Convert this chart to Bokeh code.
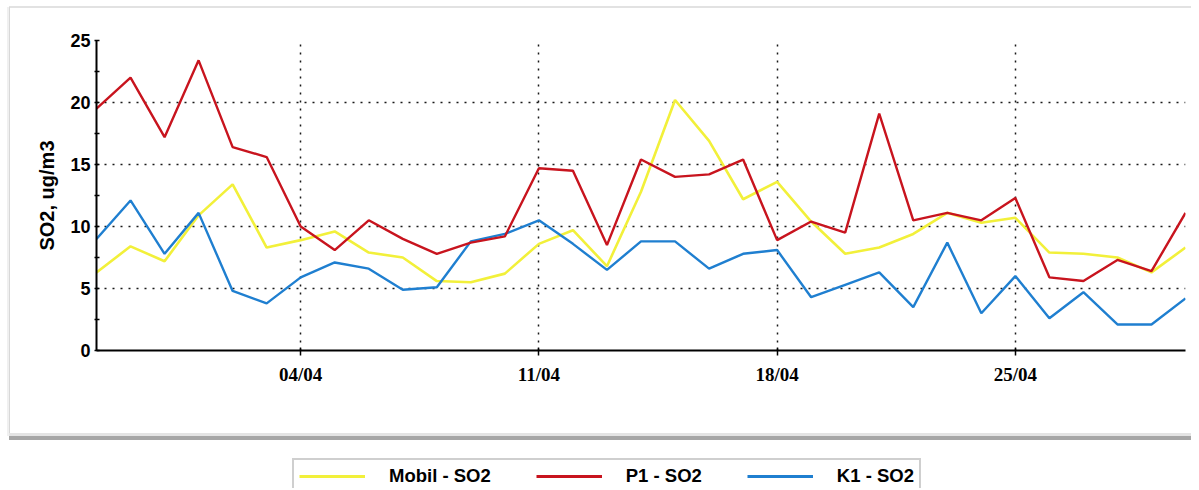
from bokeh.plotting import figure
from bokeh.layouts import column
from bokeh.models import (ColumnDataSource, FixedTicker, Legend, LegendItem,
                          Range1d, InlineStyleSheet)
from bokeh.embed import file_html
from bokeh.resources import INLINE

# ---- data ----
dates = ["29/03", "30/03", "31/03", "01/04", "02/04", "03/04", "04/04", "05/04",
         "06/04", "07/04", "08/04", "09/04", "10/04", "11/04", "12/04", "13/04",
         "14/04", "15/04", "16/04", "17/04", "18/04", "19/04", "20/04", "21/04",
         "22/04", "23/04", "24/04", "25/04", "26/04", "27/04", "28/04", "29/04",
         "30/04"]
mobil = [6.3, 8.4, 7.2, 10.9, 13.4, 8.3, 8.9, 9.6, 7.9, 7.5, 5.6, 5.5, 6.2, 8.6,
         9.7, 6.8, 12.8, 20.2, 16.9, 12.2, 13.6, 10.4, 7.8, 8.3, 9.4, 11.1, 10.3,
         10.7, 7.9, 7.8, 7.5, 6.3, 8.3]
p1 = [19.5, 22.0, 17.2, 23.4, 16.4, 15.6, 10.0, 8.1, 10.5, 9.0, 7.8, 8.7, 9.2,
      14.7, 14.5, 8.5, 15.4, 14.0, 14.2, 15.4, 8.9, 10.4, 9.5, 19.1, 10.5, 11.1,
      10.5, 12.3, 5.9, 5.6, 7.3, 6.4, 11.1]
k1 = [9.0, 12.1, 7.8, 11.1, 4.8, 3.8, 5.9, 7.1, 6.6, 4.9, 5.1, 8.8, 9.4, 10.5,
      8.6, 6.5, 8.8, 8.8, 6.6, 7.8, 8.1, 4.3, 5.3, 6.3, 3.5, 8.7, 3.0, 6.0, 2.6,
      4.7, 2.1, 2.1, 4.2]
x_tick_labels = ["04/04", "11/04", "18/04", "25/04"]
y_ticks = [0, 5, 10, 15, 20, 25]
y_minor = [2.5, 7.5, 12.5, 17.5, 22.5]
series_names = ["Mobil - SO2", "P1 - SO2", "K1 - SO2"]
series_cols = ["mobil", "p1", "k1"]
colors = ["#f2f03a", "#c8141e", "#1f7fd0"]
widths = [2.6, 2.4, 2.4]

idx = list(range(len(dates)))
src = ColumnDataSource(data=dict(x=idx, date=dates, mobil=mobil, p1=p1, k1=k1))

p = figure(width=1191, height=452, output_backend="svg", toolbar_location=None,
           x_range=Range1d(0, len(dates) - 1), y_range=Range1d(0, 25),
           min_border_left=96, min_border_top=40, min_border_right=6,
           min_border_bottom=102)
p.outline_line_color = None
p.background_fill_color = None
p.border_fill_color = None

# outer panel frame (CSS decoration behind the transparent canvas)
css = """
:host {
  background:
    linear-gradient(#a6a6a6, #a6a6a6) 9px 436px / 1200px 4px no-repeat,
    linear-gradient(#e4e4e4, #e4e4e4) 9px 433px / 1200px 3px no-repeat,
    linear-gradient(#d8d8d8, #d8d8d8) 9px 7px / 1px 429px no-repeat,
    linear-gradient(#f0f0f0, #f0f0f0) 7px 7px / 2px 429px no-repeat,
    linear-gradient(#e2e2e2, #e2e2e2) 9px 6px / 1200px 2px no-repeat,
    #ffffff;
}
"""
p.stylesheets = [InlineStyleSheet(css=css)]

# axes
x_ticks = [dates.index(t) for t in x_tick_labels]
p.xaxis.ticker = FixedTicker(ticks=x_ticks)
p.xaxis.major_label_overrides = {dates.index(t): t for t in x_tick_labels}
p.yaxis.ticker = FixedTicker(ticks=y_ticks, minor_ticks=y_minor)

for ax in (p.xaxis[0], p.yaxis[0]):
    ax.axis_line_color = "black"
    ax.axis_line_width = 2
    ax.major_tick_line_color = "black"
    ax.major_tick_line_width = 1.5
    ax.minor_tick_line_color = "black"
    ax.minor_tick_line_width = 1.5
    ax.major_label_text_color = "black"
    ax.major_label_text_font_style = "bold"

p.xaxis.major_tick_in = 3
p.xaxis.major_tick_out = 5
p.xaxis.minor_tick_line_color = None
p.xaxis.major_label_text_font = "Liberation Serif"
p.xaxis.major_label_text_font_size = "19px"
p.xaxis.major_label_standoff = 8

p.yaxis.major_tick_in = 3
p.yaxis.major_tick_out = 2
p.yaxis.minor_tick_in = 3
p.yaxis.minor_tick_out = 2
p.yaxis.major_label_text_font = "Liberation Sans"
p.yaxis.major_label_text_font_size = "18px"
p.yaxis.major_label_standoff = 4
p.yaxis.axis_label = "SO2, ug/m3"
p.yaxis.axis_label_text_font = "Liberation Sans"
p.yaxis.axis_label_text_font_style = "bold"
p.yaxis.axis_label_text_font_size = "20px"
p.yaxis.axis_label_text_color = "black"
p.yaxis.axis_label_standoff = 9

# grids
for g in (p.xgrid[0], p.ygrid[0]):
    g.grid_line_color = "black"
    g.grid_line_dash = "2 6"
    g.grid_line_width = 1.5
    g.grid_line_alpha = 0.9
p.ygrid.ticker = FixedTicker(ticks=[t for t in y_ticks if t > 0])

# lines (red drawn on top)
p.line("x", "mobil", source=src, line_color=colors[0], line_width=widths[0])
p.line("x", "k1", source=src, line_color=colors[2], line_width=widths[2])
p.line("x", "p1", source=src, line_color=colors[1], line_width=widths[1])

# ---- legend strip below the chart panel ----
# same series drawn again but outside this strip's y-range, so only the
# legend swatches are seen
q = figure(width=1191, height=36, output_backend="svg", toolbar_location=None,
           x_axis_type=None, y_axis_type=None,
           x_range=Range1d(0, len(dates) - 1), y_range=Range1d(100, 101),
           min_border_left=0, min_border_right=0, min_border_top=0,
           min_border_bottom=0)
q.outline_line_color = None
q.background_fill_color = "white"
q.border_fill_color = "white"
q.xgrid.visible = False
q.ygrid.visible = False

leg_renderers = [q.line("x", c, source=src, line_color=col, line_width=3)
                 for c, col in zip(series_cols, colors)]
legend = Legend(items=[LegendItem(label=n, renderers=[r], index=0)
                       for n, r in zip(series_names, leg_renderers)],
                orientation="horizontal", location=(196, -6))
legend.margin = 0
legend.padding = 5
legend.spacing = 45
legend.glyph_width = 66
legend.glyph_height = 22
legend.label_height = 22
legend.label_standoff = 24
legend.label_text_font = "Liberation Sans"
legend.label_text_font_style = "bold"
legend.label_text_font_size = "18.5px"
legend.label_text_color = "black"
legend.border_line_color = "#a0a0a0"
legend.border_line_width = 2
legend.background_fill_color = "white"
legend.background_fill_alpha = 1
q.add_layout(legend, "center")

layout = column(p, q, spacing=0)
open("out.html", "w").write(file_html(layout, INLINE))
